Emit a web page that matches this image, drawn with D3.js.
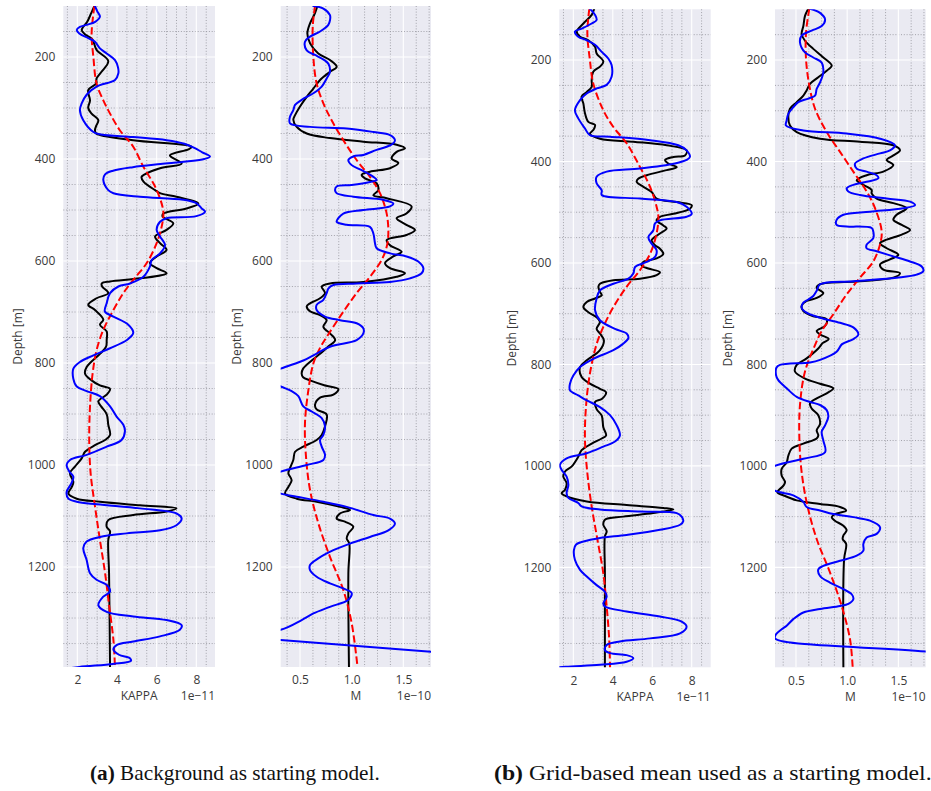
<!DOCTYPE html>
<html>
<head>
<meta charset="utf-8">
<script src="https://cdn.jsdelivr.net/npm/d3@7"></script>
<style>
  html, body { margin: 0; padding: 0; background: #fff; }
  svg { display: block; }
</style>
</head>
<body>
<svg id="fig" width="931" height="791"></svg>
<script>
// ---------------------------------------------------------------
// Depth profiles, each point is [depth (m), value].
// KAPPA values are in units of 1e-11, M values in units of 1e-10.
// black = true model, red dashed = starting model, blue = inverted model
// ---------------------------------------------------------------

// (a) background as starting model -- KAPPA
const trueKappaA = [[100,2.86],[114,2.7],[131,2.5],[147,2.22],[156,2.4],[165,2.75],[186,2.97],[208,3.56],[230,3.2],[242,2.97],[252,2.95],[265,2.55],[285,2.64],[300,2.55],[311,2.72],[324,3.06],[335,2.95],[343,2.89],[350,2.95],[363,4.82],[376,7.77],[381,7.6],[393,6.67],[409,7.26],[418,6.17],[435,5.24],[445,5.35],[461,5.92],[467,6.17],[474,7.0],[487,8.1],[497,7.5],[507,6.34],[513,6.3],[526,6.84],[539,6.5],[552,5.92],[565,6.17],[578,6.5],[591,6.0],[604,5.66],[614,6.0],[624,6.5],[634,5.16],[640,3.65],[644,3.23],[650,3.25],[663,3.56],[673,2.97],[686,2.55],[696,2.89],[715,3.31],[725,3.14],[738,3.48],[755,3.48],[768,3.45],[782,3.14],[808,2.47],[821,2.39],[834,2.72],[844,3.14],[851,3.65],[862,3.48],[875,3.06],[885,3.2],[900,3.48],[921,3.56],[941,3.65],[951,3.4],[961,2.89],[974,2.39],[987,2.22],[1003,1.88],[1016,1.63],[1033,1.8],[1043,1.72],[1056,1.55],[1066,1.97],[1072,3.14],[1079,5.16],[1085,7.0],[1091,6.5],[1098,4.82],[1108,3.56],[1121,3.48],[1130,3.65],[1147,3.56],[1212,3.6],[1398,3.65]];
const startKappaA = [[100,2.86],[154,2.72],[200,2.81],[252,2.97],[285,3.31],[311,3.65],[344,4.15],[376,4.82],[415,5.33],[454,5.92],[487,6.25],[507,6.34],[533,6.25],[565,6.0],[604,5.5],[637,4.82],[663,4.32],[696,3.82],[735,3.31],[775,2.97],[821,2.77],[885,2.64],[951,2.6],[1016,2.67],[1081,2.89],[1147,3.14],[1212,3.4],[1278,3.61],[1343,3.82],[1398,3.9]];
const invKappaA = [[100,2.89],[110,3.0],[121,3.14],[131,2.9],[137,2.47],[141,2.13],[147,1.97],[154,2.1],[163,2.55],[170,2.89],[183,3.14],[193,3.48],[206,3.9],[220,4.05],[232,4.07],[245,3.9],[258,2.97],[274,2.47],[291,2.22],[304,2.13],[324,2.3],[347,2.81],[352,3.2],[357,4.8],[363,6.5],[370,7.4],[378,7.9],[387,8.3],[395,8.69],[400,8.4],[405,7.5],[410,6.2],[416,4.8],[423,3.8],[430,3.4],[441,3.31],[461,3.56],[467,3.82],[474,5.16],[480,7.34],[487,8.02],[497,8.27],[503,8.44],[512,8.0],[516,6.5],[523,6.17],[539,6.0],[552,6.17],[569,6.42],[585,6.17],[598,5.75],[611,5.66],[631,5.33],[644,4.66],[650,4.07],[663,3.65],[683,3.48],[699,3.39],[709,3.82],[725,4.57],[741,4.82],[755,4.5],[771,3.65],[785,2.81],[798,2.13],[811,1.8],[831,1.8],[846,1.97],[855,2.47],[865,3.14],[885,3.65],[905,3.98],[921,4.32],[934,4.4],[951,4.23],[964,3.48],[980,2.47],[990,1.63],[1000,1.46],[1013,1.6],[1023,1.8],[1036,1.7],[1053,1.46],[1066,1.55],[1072,1.97],[1077,3.0],[1085,5.16],[1095,7.0],[1105,7.26],[1118,7.0],[1128,6.17],[1134,4.49],[1141,3.14],[1150,2.47],[1163,2.3],[1186,2.47],[1212,2.64],[1225,2.97],[1235,3.48],[1248,3.65],[1258,3.31],[1275,3.06],[1288,3.48],[1297,4.82],[1304,6.5],[1314,7.26],[1323,7.17],[1336,6.17],[1346,4.82],[1353,3.98],[1362,3.82],[1372,4.1],[1379,4.66],[1384,4.7],[1390,3.8],[1396,2.1],[1402,1.0]];

// (a) background as starting model -- M
const trueMA = [[100,0.668],[114,0.645],[134,0.597],[154,0.571],[173,0.597],[193,0.677],[206,0.79],[219,0.855],[229,0.79],[245,0.694],[262,0.629],[278,0.565],[297,0.5],[314,0.452],[323,0.435],[337,0.468],[350,0.565],[359,0.79],[366,1.113],[372,1.435],[379,1.516],[386,1.435],[399,1.387],[408,1.452],[418,1.371],[425,1.177],[431,1.097],[438,1.129],[448,1.242],[461,1.258],[471,1.21],[477,1.339],[493,1.58],[507,1.53],[516,1.435],[529,1.53],[539,1.613],[549,1.53],[559,1.339],[569,1.371],[582,1.484],[591,1.403],[604,1.323],[614,1.371],[624,1.516],[631,1.435],[641,1.113],[644,0.79],[650,0.71],[663,0.742],[673,0.694],[683,0.597],[689,0.565],[699,0.6],[706,0.694],[716,0.758],[729,0.726],[742,0.79],[755,0.84],[768,0.77],[782,0.694],[795,0.613],[811,0.53],[821,0.516],[828,0.53],[834,0.597],[844,0.742],[851,0.871],[862,0.823],[868,0.694],[882,0.645],[891,0.661],[901,0.758],[924,0.742],[941,0.71],[951,0.661],[964,0.532],[974,0.452],[990,0.435],[1006,0.403],[1016,0.387],[1030,0.419],[1043,0.387],[1056,0.355],[1066,0.468],[1072,0.661],[1082,0.887],[1088,0.984],[1095,0.887],[1105,0.855],[1111,0.935],[1121,1.016],[1134,0.968],[1144,0.952],[1154,0.977],[1212,0.968],[1398,0.974]];
const startMA = [[100,0.645],[141,0.623],[200,0.629],[252,0.661],[291,0.726],[324,0.806],[363,0.919],[402,1.048],[435,1.177],[467,1.274],[507,1.339],[546,1.355],[572,1.339],[598,1.29],[631,1.177],[663,1.048],[709,0.887],[749,0.758],[768,0.7],[801,0.629],[853,0.581],[918,0.548],[984,0.558],[1049,0.597],[1114,0.677],[1180,0.79],[1245,0.919],[1310,1.0],[1398,1.058]];
const invMA = [[100,0.629],[105,0.726],[118,0.79],[128,0.79],[137,0.774],[150,0.694],[160,0.597],[170,0.548],[187,0.565],[196,0.645],[203,0.71],[213,0.774],[229,0.79],[242,0.758],[258,0.71],[271,0.629],[284,0.516],[294,0.452],[304,0.435],[317,0.403],[330,0.403],[337,0.597],[340,0.952],[347,1.21],[353,1.371],[363,1.419],[369,1.403],[376,1.339],[382,1.242],[392,1.113],[395,1.016],[402,0.968],[412,1.0],[422,1.097],[435,1.21],[441,1.242],[445,1.177],[451,1.0],[454,0.855],[461,0.839],[467,0.855],[474,1.016],[480,1.306],[487,1.403],[493,1.371],[500,1.113],[507,0.919],[516,0.871],[523,0.855],[529,0.952],[533,1.177],[546,1.21],[565,1.226],[575,1.242],[585,1.371],[591,1.532],[601,1.645],[614,1.694],[624,1.677],[634,1.565],[641,1.371],[644,1.048],[647,0.823],[654,0.774],[663,0.758],[676,0.726],[686,0.661],[696,0.661],[709,0.742],[716,0.887],[722,1.048],[732,1.113],[742,1.113],[755,1.048],[768,0.79],[785,0.629],[795,0.532],[811,0.313],[828,0.12],[846,0.313],[855,0.419],[865,0.484],[885,0.532],[895,0.613],[908,0.71],[924,0.742],[941,0.726],[951,0.694],[964,0.71],[980,0.742],[990,0.726],[1000,0.565],[1013,0.313],[1035,0.05],[1056,0.313],[1062,0.468],[1072,0.726],[1082,0.952],[1098,1.21],[1105,1.371],[1115,1.419],[1128,1.355],[1141,1.177],[1154,0.984],[1167,0.823],[1183,0.677],[1196,0.597],[1206,0.597],[1219,0.661],[1232,0.79],[1242,0.919],[1251,1.0],[1264,0.968],[1278,0.79],[1291,0.629],[1304,0.516],[1323,0.313],[1335,-0.19],[1343,0.313],[1366,1.768],[1396,3.67]];

// (b) grid-based mean as starting model -- KAPPA
const trueKappaB = [[99,3.06],[111,2.93],[128,2.51],[144,2.17],[154,2.34],[161,2.76],[174,3.1],[187,3.18],[203,3.52],[213,3.35],[223,3.01],[239,2.93],[253,2.93],[263,2.68],[272,2.42],[286,2.51],[305,2.59],[322,2.76],[328,3.1],[338,3.01],[345,2.84],[355,3.35],[361,5.04],[368,6.73],[378,7.74],[388,7.66],[391,7.07],[397,6.65],[404,6.81],[411,7.24],[417,6.73],[427,5.72],[434,5.29],[440,5.21],[450,5.55],[460,5.97],[473,6.22],[480,7.24],[486,8.0],[493,7.91],[503,7.07],[509,6.39],[516,6.22],[526,6.56],[532,6.73],[542,6.39],[555,5.97],[565,6.14],[572,6.39],[582,6.56],[591,6.22],[598,5.55],[605,5.46],[611,5.8],[618,6.39],[624,6.22],[631,5.38],[634,4.03],[641,3.35],[647,3.27],[657,3.35],[664,3.44],[670,3.1],[677,2.68],[687,2.51],[697,2.76],[707,3.18],[716,3.35],[730,3.18],[739,3.35],[753,3.55],[772,3.35],[792,2.68],[805,2.34],[825,2.42],[838,2.84],[848,3.35],[855,3.66],[868,3.44],[874,3.1],[888,3.18],[901,3.44],[924,3.52],[940,3.66],[946,3.44],[956,2.93],[969,2.42],[982,2.25],[1001,1.92],[1011,1.58],[1021,1.49],[1034,1.66],[1047,1.58],[1054,1.41],[1060,1.66],[1070,2.68],[1077,4.7],[1083,6.56],[1086,7.07],[1093,6.05],[1100,4.53],[1106,3.6],[1116,3.52],[1129,3.69],[1139,3.6],[1212,3.6],[1398,3.6]];
const startKappaB = [[99,2.81],[147,2.71],[200,2.84],[246,3.01],[299,3.52],[332,4.03],[364,4.7],[411,5.38],[450,5.89],[489,6.22],[509,6.31],[542,6.22],[582,5.89],[614,5.38],[647,4.7],[687,4.03],[726,3.52],[760,3.18],[818,2.84],[884,2.64],[949,2.59],[1014,2.71],[1080,2.93],[1145,3.22],[1212,3.52],[1277,3.69],[1343,3.82],[1398,3.86]];
const invKappaB = [[99,2.84],[111,3.1],[121,3.18],[128,2.93],[138,2.42],[144,2.08],[154,2.25],[161,2.68],[170,3.1],[184,3.44],[197,3.77],[210,3.94],[233,3.94],[249,3.69],[256,3.18],[266,2.68],[279,2.34],[299,2.08],[315,2.25],[335,2.59],[348,2.84],[351,3.86],[358,5.89],[368,7.32],[378,7.74],[391,7.91],[397,7.74],[404,7.15],[414,5.38],[420,3.69],[430,3.18],[443,3.18],[457,3.44],[466,3.44],[473,5.38],[480,7.24],[489,7.74],[503,8.0],[509,7.74],[516,6.39],[522,6.14],[536,6.05],[549,5.8],[562,5.97],[575,6.22],[588,6.14],[598,5.72],[608,5.13],[621,5.04],[631,4.79],[641,4.03],[654,3.35],[670,3.18],[693,3.1],[713,3.35],[730,4.11],[739,4.7],[748,4.79],[760,4.5],[772,4.03],[789,3.01],[805,2.34],[822,2.0],[838,1.83],[851,1.83],[861,2.25],[871,2.68],[884,3.35],[900,3.86],[920,4.2],[940,4.36],[952,4.11],[962,3.52],[975,2.68],[985,1.66],[998,1.32],[1008,1.41],[1021,1.66],[1037,1.75],[1054,1.66],[1063,1.75],[1073,2.25],[1080,2.42],[1086,3.35],[1090,5.38],[1093,7.24],[1100,7.49],[1109,7.57],[1116,7.41],[1126,6.39],[1136,4.7],[1142,3.35],[1149,2.51],[1155,2.14],[1166,2.03],[1185,2.08],[1205,2.34],[1218,2.68],[1235,3.18],[1248,3.6],[1258,3.69],[1271,3.52],[1277,3.6],[1287,4.7],[1297,6.39],[1307,7.49],[1317,7.74],[1330,7.41],[1340,5.89],[1346,4.36],[1353,3.69],[1363,3.6],[1369,3.86],[1373,4.7],[1379,5.04],[1386,4.7],[1392,3.35],[1396,1.6],[1400,0.5]];

// (b) grid-based mean as starting model -- M
const trueMB = [[99,0.62],[113,0.588],[133,0.572],[149,0.555],[162,0.588],[178,0.669],[195,0.767],[211,0.849],[221,0.8],[234,0.718],[247,0.637],[260,0.604],[270,0.572],[283,0.507],[296,0.441],[312,0.425],[329,0.441],[342,0.507],[355,0.735],[361,1.125],[368,1.451],[378,1.516],[388,1.451],[397,1.386],[407,1.451],[420,1.353],[427,1.19],[437,1.093],[446,1.158],[456,1.239],[463,1.239],[473,1.288],[482,1.451],[492,1.581],[505,1.483],[515,1.451],[525,1.533],[535,1.614],[544,1.533],[554,1.386],[561,1.321],[571,1.386],[584,1.5],[593,1.418],[603,1.321],[613,1.353],[620,1.516],[629,1.451],[636,1.125],[642,0.735],[649,0.702],[659,0.767],[669,0.702],[675,0.604],[685,0.555],[695,0.572],[705,0.669],[711,0.8],[724,0.784],[734,0.702],[741,0.735],[750,0.82],[758,0.76],[768,0.72],[788,0.604],[801,0.507],[814,0.49],[828,0.588],[838,0.735],[847,0.865],[857,0.8],[867,0.702],[877,0.637],[887,0.653],[900,0.718],[917,0.735],[930,0.702],[940,0.718],[946,0.702],[956,0.572],[966,0.458],[980,0.425],[993,0.409],[1006,0.36],[1019,0.36],[1032,0.393],[1039,0.377],[1052,0.318],[1058,0.377],[1068,0.507],[1075,0.735],[1081,0.93],[1088,0.99],[1095,0.88],[1101,0.849],[1108,0.88],[1118,0.963],[1127,0.995],[1137,0.963],[1144,0.956],[1154,0.99],[1184,0.97],[1398,0.963]];
const startMB = [[99,0.63],[146,0.598],[198,0.598],[250,0.63],[296,0.686],[342,0.8],[381,0.93],[420,1.06],[459,1.19],[492,1.272],[538,1.337],[564,1.32],[597,1.255],[629,1.125],[662,0.995],[701,0.865],[734,0.751],[760,0.69],[814,0.588],[880,0.539],[946,0.533],[1012,0.555],[1078,0.611],[1144,0.702],[1210,0.832],[1276,0.946],[1342,1.028],[1398,1.054]];
const invMB = [[99,0.637],[107,0.735],[120,0.784],[133,0.751],[142,0.653],[152,0.555],[165,0.539],[185,0.588],[195,0.669],[205,0.751],[224,0.767],[244,0.735],[257,0.702],[270,0.686],[276,0.62],[283,0.523],[293,0.474],[306,0.425],[319,0.409],[329,0.402],[339,0.572],[345,0.995],[355,1.321],[368,1.467],[378,1.418],[384,1.321],[394,1.158],[404,1.077],[414,1.093],[420,1.19],[427,1.288],[433,1.305],[440,1.19],[446,1.06],[453,0.995],[459,1.011],[466,1.125],[473,1.386],[479,1.614],[486,1.663],[492,1.549],[499,1.223],[505,0.963],[515,0.897],[525,0.897],[528,0.995],[531,1.239],[538,1.255],[551,1.255],[564,1.19],[571,1.19],[577,1.288],[587,1.451],[597,1.614],[607,1.728],[616,1.744],[623,1.679],[629,1.484],[636,1.06],[642,0.735],[655,0.702],[665,0.669],[672,0.62],[678,0.572],[688,0.555],[698,0.604],[708,0.735],[718,0.93],[727,1.06],[741,1.109],[750,1.06],[760,0.95],[775,0.897],[791,0.735],[796,0.637],[801,0.344],[806,0.31],[821,0.305],[831,0.327],[847,0.409],[864,0.507],[874,0.637],[880,0.735],[890,0.8],[903,0.816],[920,0.784],[933,0.751],[950,0.767],[973,0.784],[986,0.572],[1000,0.295],[1025,0.05],[1049,0.295],[1052,0.344],[1058,0.474],[1071,0.572],[1081,0.604],[1088,0.735],[1095,0.865],[1101,1.06],[1108,1.223],[1121,1.321],[1134,1.288],[1141,1.19],[1154,1.158],[1167,1.158],[1177,1.093],[1187,0.93],[1197,0.767],[1204,0.718],[1217,0.735],[1230,0.832],[1243,0.963],[1253,1.044],[1263,1.06],[1272,1.011],[1276,0.93],[1282,0.735],[1289,0.572],[1302,0.474],[1315,0.409],[1322,0.36],[1332,0.305],[1340,0.295],[1366,1.767],[1396,3.41]];

// axis limits and ticks
const kappaLimA = [1.293, 8.942];
const mLimA = [0.313, 1.768];
const kappaLimB = [1.289, 8.962];
const mLimB = [0.295, 1.767];
const depthLimA = [100, 1396];
const depthLimB = [100, 1397];
const depthTicks = [200, 400, 600, 800, 1000, 1200];
const kappaTicks = [2, 4, 6, 8];
const mTicks = [0.5, 1.0, 1.5];
const captions = ["Background as starting model.", "Grid-based mean used as a starting model."];

// ---------------------------------------------------------------
const svg = d3.select("#fig");
const tickFont = "'Open Sans', 'DejaVu Sans', sans-serif";
const textColor = "#3a3a3a";

const panels = [
  { id: "pa1", xLim: kappaLimA, yLim: depthLimA, ticks: kappaTicks, minor: 0.5, fmt: d3.format("d"),
    name: "KAPPA", offset: "1e\u221211", box: [63.3, 6, 215, 667], ylabX: 17.5, tickBase: 684, labBase: 700,
    series: [trueKappaA, startKappaA, invKappaA] },
  { id: "pa2", xLim: mLimA, yLim: depthLimA, ticks: mTicks, minor: 0.125, fmt: d3.format(".1f"),
    name: "M", offset: "1e\u221210", box: [280.7, 6, 431, 667], ylabX: 236.5, tickBase: 684, labBase: 700,
    series: [trueMA, startMA, invMA] },
  { id: "pb1", xLim: kappaLimB, yLim: depthLimB, ticks: kappaTicks, minor: 0.5, fmt: d3.format("d"),
    name: "KAPPA", offset: "1e\u221211", box: [559.3, 9.3, 710.7, 667.3], ylabX: 512, tickBase: 685, labBase: 701,
    series: [trueKappaB, startKappaB, invKappaB] },
  { id: "pb2", xLim: mLimB, yLim: depthLimB, ticks: mTicks, minor: 0.125, fmt: d3.format(".1f"),
    name: "M", offset: "1e\u221210", box: [775, 9.3, 925.7, 667.3], ylabX: 728, tickBase: 685, labBase: 701,
    series: [trueMB, startMB, invMB] }
];

const seriesStyle = [
  { stroke: "#000000", width: 2, dash: null },
  { stroke: "#ff0000", width: 2, dash: "7.4,3.2" },
  { stroke: "#0000ff", width: 2, dash: null }
];

function minorValues(lim, step, majors) {
  const out = [];
  const start = Math.ceil(lim[0] / step - 1e-9);
  const end = Math.floor(lim[1] / step + 1e-9);
  for (let i = start; i <= end; i++) {
    const v = +(i * step).toFixed(6);
    if (!majors.some(m => Math.abs(m - v) < 1e-9)) out.push(v);
  }
  return out;
}

panels.forEach(p => {
  const [x0, y0, x1, y1] = p.box;
  const x = d3.scaleLinear().domain(p.xLim).range([x0, x1]);
  const y = d3.scaleLinear().domain(p.yLim).range([y0, y1]);
  const g = svg.append("g").attr("class", "panel");

  g.append("rect").attr("x", x0).attr("y", y0)
    .attr("width", x1 - x0).attr("height", y1 - y0).attr("fill", "#eaeaf2");

  // minor grid (dotted)
  const xMinor = minorValues(p.xLim, p.minor, p.ticks);
  const yMinor = minorValues(p.yLim, 50, depthTicks).filter(d => y(d) > y0 + 1 && y(d) < y1 - 1);
  const minorG = g.append("g").attr("stroke", "#9a9aa2").attr("stroke-width", 0.9)
    .attr("stroke-dasharray", "1,1.8");
  minorG.selectAll("line.vx").data(xMinor).join("line")
    .attr("x1", d => x(d)).attr("x2", d => x(d)).attr("y1", y0).attr("y2", y1);
  minorG.selectAll("line.hy").data(yMinor).join("line")
    .attr("y1", d => y(d)).attr("y2", d => y(d)).attr("x1", x0).attr("x2", x1);

  // major grid (white)
  const majorG = g.append("g").attr("stroke", "#ffffff").attr("stroke-width", 1.1);
  majorG.selectAll("line.vx").data(p.ticks).join("line")
    .attr("x1", d => x(d)).attr("x2", d => x(d)).attr("y1", y0).attr("y2", y1);
  majorG.selectAll("line.hy").data(depthTicks).join("line")
    .attr("y1", d => y(d)).attr("y2", d => y(d)).attr("x1", x0).attr("x2", x1);

  // curves
  const clipId = "clip-" + p.id;
  svg.append("clipPath").attr("id", clipId).append("rect")
    .attr("x", x0).attr("y", y0).attr("width", x1 - x0).attr("height", y1 - y0);
  const line = d3.line().x(d => x(d[1])).y(d => y(d[0])).curve(d3.curveCatmullRom.alpha(0.5));
  const curves = g.append("g").attr("clip-path", `url(#${clipId})`);
  p.series.forEach((s, i) => {
    const st = seriesStyle[i];
    curves.append("path").attr("d", line(s)).attr("fill", "none")
      .attr("stroke", st.stroke).attr("stroke-width", st.width)
      .attr("stroke-linejoin", "round").attr("stroke-linecap", st.dash ? "butt" : "round")
      .attr("stroke-dasharray", st.dash);
  });

  // axes
  const yAxis = g.append("g").attr("transform", `translate(${x0},0)`)
    .call(d3.axisLeft(y).tickValues(depthTicks).tickSize(0).tickPadding(8).tickFormat(d3.format("d")));
  yAxis.select(".domain").remove();
  yAxis.attr("font-family", tickFont).attr("font-size", 12).attr("color", textColor);

  const xAxis = g.append("g").attr("transform", `translate(0,${y1})`)
    .call(d3.axisBottom(x).tickValues(p.ticks).tickSize(0).tickPadding(0).tickFormat(p.fmt));
  xAxis.select(".domain").remove();
  xAxis.attr("font-family", tickFont).attr("font-size", 12).attr("color", textColor);
  xAxis.selectAll("text").attr("dy", null).attr("y", p.tickBase - y1);

  g.append("text").attr("x", (x0 + x1) / 2).attr("y", p.labBase)
    .attr("text-anchor", "middle").attr("font-family", tickFont).attr("font-size", 12)
    .attr("fill", textColor).text(p.name);
  g.append("text").attr("x", x1).attr("y", p.labBase)
    .attr("text-anchor", "end").attr("font-family", tickFont).attr("font-size", 12)
    .attr("fill", textColor).text(p.offset);
  g.append("text").attr("transform", `translate(${p.ylabX},${(y0 + y1) / 2}) rotate(-90)`)
    .attr("text-anchor", "middle").attr("dy", "0.35em")
    .attr("font-family", tickFont).attr("font-size", 12)
    .attr("fill", textColor).text("Depth [m]");
});

// sub-figure captions
const capSpec = [
  { tag: "(a)", text: captions[0], x: 90, width: 290 },
  { tag: "(b)", text: captions[1], x: 494, width: 438 }
];
capSpec.forEach(c => {
  const t = svg.append("text").attr("font-family", "'Liberation Serif', 'DejaVu Serif', serif")
    .attr("font-size", 20).attr("fill", "#111");
  t.append("tspan").attr("font-weight", "bold").text(c.tag);
  t.append("tspan").text(" " + c.text);
  const w = t.node().getComputedTextLength();
  t.attr("transform", `translate(${c.x},780) scale(${c.width / w},1)`);
});
</script>
</body>
</html>
